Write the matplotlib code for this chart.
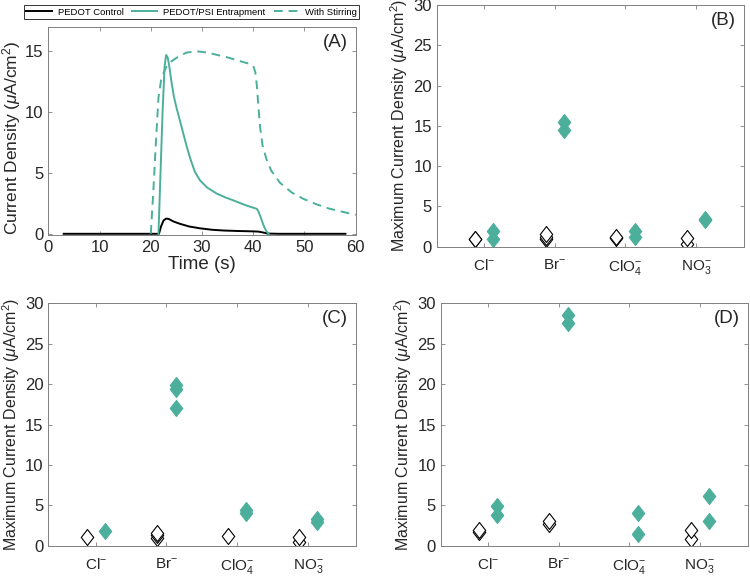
import matplotlib
matplotlib.use("Agg")
import matplotlib.pyplot as plt
from matplotlib.path import Path
import numpy as np

plt.rcParams['font.family'] = ['Liberation Sans', 'DejaVu Sans']
plt.rcParams['mathtext.fontset'] = 'custom'
plt.rcParams['mathtext.rm'] = 'Liberation Sans'
plt.rcParams['mathtext.it'] = 'Liberation Sans:italic'

TEAL = '#4BAF9C'
TXT = '#262626'
AXC = '#808080'

# ---------------- Panel A data ----------------
t_control = [3, 21.6, 22.0, 22.5, 23.0, 23.5, 24.5, 25.7, 27.5, 29.6, 32, 34.2, 37, 40.0, 41.0, 42.0, 42.8, 45, 58]
j_control = [0, 0, 0.6, 1.1, 1.25, 1.22, 1.0, 0.82, 0.6, 0.45, 0.33, 0.27, 0.23, 0.2, 0.18, 0.1, 0.02, 0, 0]

t_entrap = [21.5, 21.9, 22.3, 22.7, 23.0, 23.3, 23.6, 24.0, 24.5, 25.0, 25.5, 26.0, 27.0, 27.7, 28.6, 29.6, 31.0,
            32.9, 34.5, 36.1, 38.5, 40.7, 41.0, 41.5, 42.0, 42.5, 43.0]
j_entrap = [0, 5, 10, 13.8, 14.7, 14.5, 13.8, 12.6, 11.3, 10.4, 9.6, 8.8, 7.2, 6.2, 5.1, 4.4, 3.8,
            3.3, 3.0, 2.75, 2.35, 2.05, 1.85, 1.3, 0.7, 0.25, 0]

t_stir = [20.0, 20.5, 21.0, 21.5, 22.0, 22.5, 23.0, 24.1, 25.5, 27, 29, 31, 33, 35, 37.4, 39, 40.0,
          40.4, 40.7, 41.0, 41.3, 41.8, 42.6, 43.5, 45.2, 47.5, 49.8, 52.5, 55, 57.5, 60]
j_stir = [0, 3.5, 7.5, 11.2, 12.6, 13.2, 13.7, 14.2, 14.6, 14.9, 15.0, 14.9, 14.7, 14.5, 14.2, 14.0, 13.8,
          13.3, 12.2, 10.5, 8.9, 7.3, 6.1, 5.2, 4.2, 3.4, 2.87, 2.4, 2.05, 1.8, 1.56]

# ---------------- Panels B-D data ----------------
anions = ['Cl$^{-}$', 'Br$^{-}$', 'ClO$_4^{-}$', 'NO$_3^{-}$']

B_control_x = [1, 1, 2, 2, 2, 3, 3, 4, 4]
B_control_y = [1.0, 1.0, 0.95, 1.25, 1.55, 1.05, 1.15, 0.4, 1.1]
B_entrap_x = [1, 1, 2, 2, 3, 3, 4, 4]
B_entrap_y = [0.9, 1.95, 14.5, 15.5, 1.25, 1.95, 3.3, 3.5]

C_control_x = [1, 2, 2, 2, 3, 4, 4]
C_control_y = [1.03, 1.0, 1.3, 1.6, 1.2, 0.5, 1.1]
C_entrap_x = [1, 2, 2, 2, 3, 3, 4, 4]
C_entrap_y = [1.86, 17.0, 19.35, 19.9, 4.0, 4.4, 2.97, 3.25]

D_control_x = [1, 1, 2, 2, 4, 4]
D_control_y = [1.7, 2.0, 2.7, 3.0, 0.8, 2.0]
D_entrap_x = [1, 1, 2, 2, 3, 3, 4, 4]
D_entrap_y = [3.8, 4.9, 27.6, 28.6, 1.4, 4.1, 3.05, 6.1]

# MATLAB-like diamond marker
diamond = Path([(0, 1), (0.78, 0), (0, -1), (-0.78, 0), (0, 1)],
               [Path.MOVETO, Path.LINETO, Path.LINETO, Path.LINETO, Path.CLOSEPOLY])

fig = plt.figure(figsize=(7.5, 5.77), dpi=100)


def style(ax):
    for s in ax.spines.values():
        s.set_color(AXC)
        s.set_linewidth(0.7)
    ax.tick_params(direction='in', top=True, right=True, colors=AXC, labelcolor=TXT,
                   length=3, width=0.6, labelsize=10)


axA = fig.add_axes([0.0644, 0.5927, 0.4099, 0.3605])
axB = fig.add_axes([0.5823, 0.5724, 0.4097, 0.4189])
axC = fig.add_axes([0.0644, 0.0542, 0.4103, 0.4201])
axD = fig.add_axes([0.5876, 0.0542, 0.4093, 0.4201])

# Panel A
lc, = axA.plot(t_control, j_control, color='black', lw=1.4, label='PEDOT Control')
le, = axA.plot(t_entrap, j_entrap, color=TEAL, lw=1.4, label='PEDOT/PSI Entrapment')
ls, = axA.plot(t_stir, j_stir, color=TEAL, lw=1.4, ls=(0, (4.5, 3)), label='With Stirring')
axA.set_xlim(0, 60)
axA.set_ylim(-0.1, 17)
axA.set_xticks(np.arange(0, 61, 10))
axA.set_yticks([0, 5, 10, 15])
style(axA)
axA.tick_params(labelsize=12)
axA.set_xlabel('Time (s)', fontsize=13.5, color=TXT, labelpad=1)
axA.set_ylabel('Current Density ($\\mu$A/cm$^2$)', fontsize=12.5, color=TXT)
axA.yaxis.label.set_verticalalignment('center')
axA.yaxis.set_label_coords(-0.118, 0.47)
axA.text(0.975, 0.965, '(A)', transform=axA.transAxes, ha='right', va='top', fontsize=13.5, color=TXT)

leg = fig.legend(handles=[lc, le, ls], loc='center', ncol=3, fontsize=6.8,
                 bbox_to_anchor=(0.2555, 0.979), frameon=True, fancybox=False,
                 handlelength=2.7, columnspacing=0.9, handletextpad=0.6,
                 borderpad=0.25, edgecolor='black')
leg.get_frame().set_linewidth(0.7)

for ax, cx, cy, ex, ey, lab in [
    (axB, B_control_x, B_control_y, B_entrap_x, B_entrap_y, '(B)'),
    (axC, C_control_x, C_control_y, C_entrap_x, C_entrap_y, '(C)'),
    (axD, D_control_x, D_control_y, D_entrap_x, D_entrap_y, '(D)'),
]:
    ax.plot(np.array(cx) - 0.13, cy, ls='none', marker=diamond, ms=11.5,
            mfc='white', mec='black', mew=0.8)
    ax.plot(np.array(ex) + 0.13, ey, ls='none', marker=diamond, ms=11.5,
            mfc=TEAL, mec=TEAL, mew=0.8)
    ax.set_xlim(0.33, 4.68)
    ax.set_ylim(0, 30)
    ax.set_yticks(np.arange(0, 31, 5))
    ax.set_xticks([1, 2, 3, 4])
    ax.set_xticklabels(anions)
    style(ax)
    ax.tick_params(axis='y', labelsize=12)
    ax.tick_params(axis='x', labelsize=11, pad=8)
    ax.set_ylabel('Maximum Current Density ($\\mu$A/cm$^2$)', fontsize=11.5, color=TXT, labelpad=2)
    ax.text(0.975, 0.972, lab, transform=ax.transAxes, ha='right', va='top', fontsize=13.5, color=TXT)

fig.savefig('out.png', dpi=100)
